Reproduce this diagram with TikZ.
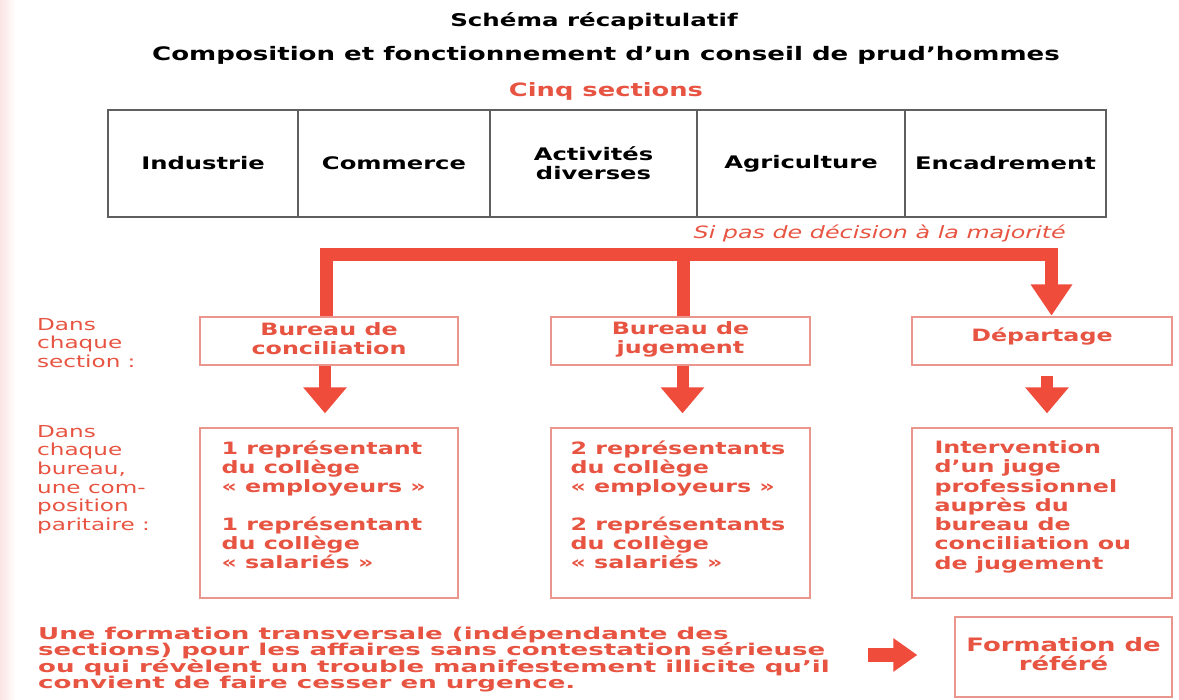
\documentclass[tikz,border=0pt]{standalone}
\usepackage{fontspec}
\usetikzlibrary{arrows.meta}
\newfontfamily\vfnt[FakeStretch=1.4]{DejaVu Sans}
\newfontfamily\wfnt[FakeStretch=1.6]{DejaVu Sans}
\definecolor{arrowred}{RGB}{240,76,60}
\definecolor{txtred}{RGB}{232,84,66}
\definecolor{boxred}{RGB}{234,150,140}
\definecolor{tgray}{RGB}{95,95,95}
\definecolor{pinkedge}{RGB}{252,228,228}
\tikzset{
  ttl/.style={font=\vfnt\bfseries\fontsize{17.5}{20}\selectfont, text=black, inner sep=0pt},
  cell/.style={draw=tgray, line width=2.8pt, minimum height=107pt, font=\vfnt\bfseries\fontsize{17.3}{19}\selectfont, align=center, inner sep=0pt},
  rbox/.style={draw=boxred, line width=1.3pt, inner sep=0pt},
  rtxt/.style={text=txtred, font=\vfnt\bfseries\fontsize{17}{19.3}\selectfont, align=left, inner sep=0pt, anchor=north west},
  htxt/.style={text=txtred, font=\vfnt\bfseries\fontsize{17}{19}\selectfont, align=center, inner sep=0pt},
  ltxt/.style={text=txtred, font=\vfnt\fontsize{16.5}{18.6}\selectfont, align=left, inner sep=0pt, anchor=north west},
  trunk/.style={draw=arrowred, line width=13pt, line join=miter, line cap=butt},
  fat/.style={draw=arrowred, line width=12pt, -{Triangle[width=42pt,length=26pt]}},
}
\begin{document}
\begin{tikzpicture}[x=1pt,y=-1pt]
\useasboundingbox (0,0) rectangle (1179,700);
\fill[white] (0,0) rectangle (1179,700);
\shade[left color=pinkedge, right color=white] (0,0) rectangle (16,700);

% titles
\node[ttl] (t1) at (594,21) {Schéma récapitulatif};
\node[ttl, font=\vfnt\bfseries\fontsize{18.6}{20}\selectfont] (t2) at (606,55) {Composition et fonctionnement d’un conseil de prud’hommes};
\node[ttl, text=txtred, font=\vfnt\bfseries\fontsize{18.4}{20}\selectfont] (t3) at (606,91) {Cinq sections};

% table
\node[cell, minimum width=190pt] (c1) at (203,163.5) {Industrie};
\node[cell, minimum width=192pt] (c2) at (394,163.5) {Commerce};
\node[cell, minimum width=207pt] (c3) at (593.5,163.5) {Activités\\diverses};
\node[cell, minimum width=208pt] (c4) at (801,163.5) {Agriculture};
\node[cell, minimum width=201pt] (c5) at (1005.5,163.5) {Encadrement};

\node[text=txtred, font=\vfnt\itshape\fontsize{17}{18}\selectfont, inner sep=0pt, anchor=east] (maj) at (1066,233) {Si pas de décision à la majorité};

% row 1 boxes
\node[rbox, minimum width=258pt, minimum height=48pt] (bc) at (329,341) {};
\node[rbox, minimum width=259pt, minimum height=48pt] (bj) at (680.5,341) {};
\node[rbox, minimum width=260pt, minimum height=48pt] (dp) at (1042,341) {};
\node[htxt] at (329,339) {Bureau de\\conciliation};
\node[htxt] at (680.5,339) {Bureau de\\jugement};
\node[htxt] at (1042,337) {Départage};

% row 2 boxes
\node[rbox, minimum width=258pt, minimum height=170pt] (r1) at (329,513) {};
\node[rbox, minimum width=259pt, minimum height=170pt] (r2) at (680.5,513) {};
\node[rbox, minimum width=260pt, minimum height=170pt] (r3) at (1042,513) {};
\node[rtxt] at ([shift={(22pt,-13pt)}]r1.north west) {1 représentant\\du collège\\« employeurs »\\[18pt]1 représentant\\du collège\\« salariés »};
\node[rtxt] at ([shift={(20pt,-13pt)}]r2.north west) {2 représentants\\du collège\\« employeurs »\\[18pt]2 représentants\\du collège\\« salariés »};
\node[rtxt] at ([shift={(23pt,-13pt)}]r3.north west) {Intervention\\d’un juge\\professionnel\\auprès du\\bureau de\\conciliation ou\\de jugement};

% left labels
\node[ltxt] (l1) at (37,318) {Dans\\chaque\\section :};
\node[ltxt] (l2) at (37,425) {Dans\\chaque\\bureau,\\une com-\\position\\paritaire :};

% trunk
\coordinate (tl) at (326.5,255);
\coordinate (tm) at (683.5,255);
\coordinate (tr) at (1051.5,255);
\draw[trunk] (tl |- bc.north) -- (tl) -- (tr) -- ([yshift=29pt]tr |- dp.north);
\fill[arrowred] ([xshift=-21pt,yshift=32pt]tr |- dp.north) -- ([xshift=21pt,yshift=32pt]tr |- dp.north) -- ([yshift=1pt]tr |- dp.north) -- cycle;
\draw[trunk] (tm) -- (tm |- bj.north);

% down arrows
\draw[fat, shorten >=14pt] ([xshift=-4pt]bc.south) -- ([xshift=-4pt]r1.north);
\draw[fat, shorten >=14pt] ([xshift=2pt]bj.south) -- ([xshift=2pt]r2.north);
\draw[fat, shorten <=10pt, shorten >=14pt] ([xshift=5pt]dp.south) -- ([xshift=5pt]r3.north);

% bottom
\node[text=txtred, font=\wfnt\bfseries\fontsize{16.3}{16.5}\selectfont, align=left, inner sep=0pt, anchor=north west] (bt) at (38,626) {Une formation transversale (indépendante des\\sections) pour les affaires sans contestation sérieuse\\ou qui révèlent un trouble manifestement illicite qu’il\\convient de faire cesser en urgence.};
\node[rbox, minimum width=217pt, minimum height=80pt] (ref) at (1063.5,657) {};
\node[htxt, font=\vfnt\bfseries\fontsize{18.5}{18.5}\selectfont] at (1063.5,654) {Formation de\\référé};
\coordinate (ba) at (868,655);
\draw[draw=arrowred, line width=14pt, -{Triangle[width=32pt,length=24pt]}, shorten >=37pt] (ba) -- (ba -| ref.west);
\end{tikzpicture}
\end{document}
